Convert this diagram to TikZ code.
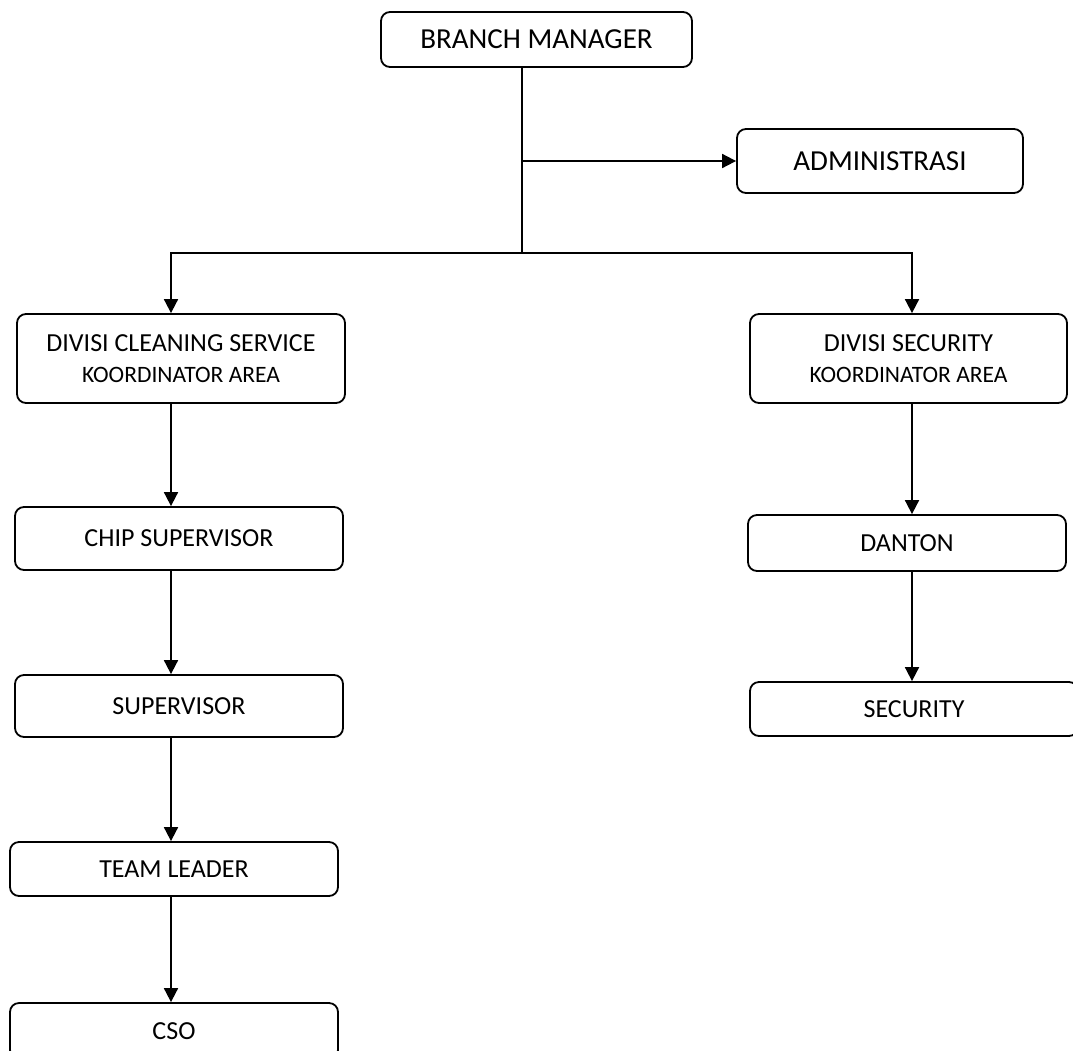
\documentclass[tikz,border=0pt]{standalone}
\usepackage{fontspec}
\setmainfont{Carlito}
\usetikzlibrary{arrows.meta}
\begin{document}
\begin{tikzpicture}[x=1pt,y=-1pt,
  box/.style={draw, line width=1.8pt, rounded corners=9pt, inner sep=0pt, align=center},
  big/.style={font=\fontsize{29}{34}\selectfont},
  mid/.style={font=\fontsize{26}{31}\selectfont},
  conn/.style={line width=1.8pt},
  arr/.style={conn, -{Triangle[length=14pt,width=14pt]}}]
\clip (0,0) rectangle (1073,1050);
\fill[white] (0,0) rectangle (1073,1050);
\node[box, big, minimum width=311pt, minimum height=55pt] (bm) at (536.5,39.5) {BRANCH MANAGER};
\node[box, big, minimum width=286pt, minimum height=64pt] (adm) at (880,161) {ADMINISTRASI};
\node[box, mid, minimum width=328pt, minimum height=89pt] (dcs) at (181,358.5) {DIVISI CLEANING SERVICE\\{\fontsize{23.5}{31}\selectfont KOORDINATOR AREA}};
\node[box, mid, minimum width=317pt, minimum height=89pt] (dsec) at (908.5,358.5) {DIVISI SECURITY\\{\fontsize{23.5}{31}\selectfont KOORDINATOR AREA}};
\node[box, mid, minimum width=328pt, minimum height=63pt] (chip) at (179,538.5) {CHIP SUPERVISOR};
\node[box, mid, minimum width=328pt, minimum height=62pt] (sup) at (179,706) {SUPERVISOR};
\node[box, mid, minimum width=328pt, minimum height=54pt] (tl) at (174,869) {TEAM LEADER};
\node[box, mid, minimum width=328pt, minimum height=56pt, text depth=0pt] (cso) at (174,1031) {CSO};
\node[box, mid, minimum width=318pt, minimum height=56pt] (danton) at (907,543) {DANTON};
\node[box, mid, minimum width=328pt, minimum height=54pt] (secur) at (914,709) {SECURITY};
\coordinate (spine) at (522,253);
\coordinate (L) at (171,253);
\coordinate (R) at (912,253);
\draw[conn] (bm.south -| spine) -- (spine);
\draw[arr] (spine |- adm.west) -- (adm.west);
\draw[arr] (spine) -| (dcs.north -| L);
\draw[arr] (spine) -| (dsec.north -| R);
\draw[arr] (dcs.south -| L) -- (chip.north -| L);
\draw[arr] (chip.south -| L) -- (sup.north -| L);
\draw[arr] (sup.south -| L) -- (tl.north -| L);
\draw[arr] (tl.south -| L) -- (cso.north -| L);
\draw[arr] (dsec.south -| R) -- (danton.north -| R);
\draw[arr] (danton.south -| R) -- (secur.north -| R);
\end{tikzpicture}
\end{document}
